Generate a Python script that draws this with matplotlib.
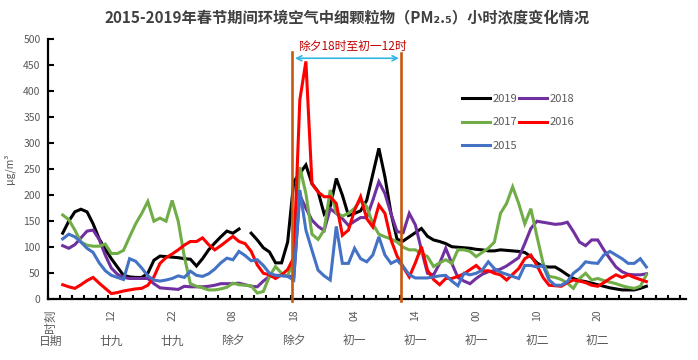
import numpy as np
import matplotlib
matplotlib.use('Agg')
import matplotlib.pyplot as plt
import matplotlib.transforms as mtransforms

plt.rcParams['font.family'] = ['Noto Sans CJK SC', 'DejaVu Sans']

# ---------------- data ----------------
# category index: 0 = header ("时刻/日期"), data hours at categories 2..98
categories = list(range(2, 99))

pm_2019 = [127, 150, 168, 173, 168, 145, 116, 96, 78, 62,
           46, 43, 42, 42, 50, 75, 83, 82, 81, 80,
           78, 77, 64, 78, 95, 108, 120, 131, 127, 135,
           np.nan, 127, 114, 99, 91, 70, 70, 110, 226, 242,
           258, 222, 207, 164, 178, 232, 200, 161, 165, 170,
           190, 240, 290, 235, 165, 115, 112, 120, 128, 136,
           121, 114, 111, 107, 101, 100, 99, 98, 96, 95,
           93, 93, 95, 94, 93, 92, 90, 82, 70, 63,
           62, 62, 55, 47, 40, 36, 34, 31, 28, 25,
           22, 20, 18, 18, 18, 21, 25]
pm_2018 = [103, 98, 105, 118, 131, 133, 115, 85, 60, 48,
           42, 40, 40, 40, 40, 30, 22, 21, 20, 19,
           25, 24, 24, 24, 25, 27, 30, 30, 30, 31,
           28, 25, 24, 35, 44, 46, 46, 45, 43, 200,
           175, 152, 140, 132, 174, 165, 155, 142, 150, 157,
           157, 190, 226, 203, 164, 130, 128, 165, 143, 95,
           50, 47, 69, 98, 69, 42, 35, 30, 40, 48,
           53, 55, 58, 64, 72, 80, 107, 136, 150, 148,
           146, 144, 145, 148, 130, 110, 103, 114, 114, 95,
           78, 62, 53, 48, 47, 47, 49]
pm_2017 = [162, 153, 133, 110, 104, 102, 102, 106, 88, 88,
           94, 120, 145, 165, 188, 150, 156, 150, 190, 150,
           82, 30, 25, 22, 18, 18, 20, 23, 31, 28,
           27, 26, 12, 15, 44, 63, 50, 44, 79, 254,
           203, 125, 115, 133, 210, 166, 160, 165, 175, 190,
           178, 145, 125, 120, 116, 110, 100, 95, 95, 88,
           82, 63, 70, 76, 69, 95, 95, 92, 82, 90,
           98, 110, 165, 184, 216, 184, 145, 174, 121, 70,
           44, 42, 38, 31, 21, 40, 50, 37, 40, 36,
           33, 30, 26, 23, 21, 25, 47]
pm_2016 = [28, 24, 21, 28, 36, 42, 31, 21, 11, 13,
           16, 18, 20, 21, 27, 43, 69, 80, 87, 95,
           104, 111, 111, 118, 105, 95, 103, 112, 121, 111,
           107, 92, 66, 50, 47, 40, 47, 57, 80, 383,
           457, 222, 206, 197, 197, 184, 123, 133, 171, 197,
           155, 139, 181, 165, 114, 83, 62, 43, 70, 101,
           56, 38, 28, 40, 40, 44, 49, 57, 65, 54,
           55, 50, 47, 37, 48, 59, 78, 85, 65, 42,
           27, 26, 25, 32, 37, 35, 32, 27, 25, 32,
           40, 47, 42, 47, 42, 38, 34]
pm_2015 = [116, 125, 120, 110, 98, 90, 70, 55, 46, 42,
           38, 78, 73, 60, 45, 37, 35, 37, 40, 45,
           42, 54, 46, 44, 49, 58, 70, 79, 76, 92,
           84, 74, 76, 65, 50, 46, 45, 44, 37, 210,
           133, 94, 56, 45, 37, 140, 69, 69, 98, 78,
           72, 85, 120, 85, 69, 75, 63, 47, 41, 41,
           41, 43, 45, 46, 35, 26, 50, 47, 50, 56,
           72, 59, 52, 48, 44, 40, 65, 65, 62, 65,
           37, 27, 27, 34, 50, 59, 72, 70, 69, 85,
           92, 85, 78, 69, 69, 78, 62]

series_names = ['2019', '2018', '2017', '2016', '2015']
label_positions = [0, 10, 20, 30, 40, 50, 60, 70, 80, 90]
hour_labels = ['时刻', '12', '22', '08', '18', '04', '14', '00', '10', '20']
date_labels = ['日期', '廿九', '廿九', '除夕', '除夕', '初一', '初一', '初一', '初二', '初二']
period_start, period_end = 39.7, 57.7
period_text = '除夕18时至初一12时'
title = '2015-2019年春节期间环境空气中细颗粒物（PM₂.₅）小时浓度变化情况'

colors = ['#000000', '#7030A0', '#70AD47', '#FF0000', '#4472C4']
gray = '#595959'

# ---------------- figure ----------------
fig = plt.figure(figsize=(6.98, 3.60), dpi=100)
ax = fig.add_axes([47.5 / 698, 60.7 / 360, 638.4 / 698, 260.3 / 360])

data = [pm_2019, pm_2018, pm_2017, pm_2016, pm_2015]
handles = []
for vals, c, name in zip(data, colors, series_names):
    assert len(vals) == len(categories)
    h, = ax.plot(categories, vals, color=c, lw=2.2, label=name,
                 solid_joinstyle='miter')
    handles.append(h)

ax.set_xlim(-0.5, 104.5)
ax.set_ylim(0, 500)
for s in ['top', 'right']:
    ax.spines[s].set_visible(False)
for s in ['left', 'bottom']:
    ax.spines[s].set_linewidth(1.6)
    ax.spines[s].set_color('black')

ax.set_yticks(np.arange(0, 501, 50))
ax.tick_params(axis='y', direction='in', length=4, width=1.5, pad=5,
               labelsize=7.5, labelcolor=gray)

ax.set_xticks(np.arange(-0.5, 104.6, 2), minor=True)
ax.set_xticks(label_positions)
ax.set_xticklabels(hour_labels, rotation=90, va='top', ha='center')
ax.tick_params(axis='x', which='major', length=0, pad=7,
               labelsize=7.5, labelcolor=gray)
ax.tick_params(axis='x', which='minor', direction='in', length=3, width=1.5)
for lab in ax.get_xticklabels():
    if lab.get_text() == '时刻':
        lab.set_fontsize(8.5)

trans = mtransforms.blended_transform_factory(ax.transData, ax.transAxes)
for pos, d in zip(label_positions, date_labels):
    ax.text(pos, -0.160, d, transform=trans, ha='center', va='center',
            fontsize=8.5, color=gray)

ax.set_ylabel('μg/m³', fontsize=7.5, color=gray)
ax.yaxis.set_label_coords(-0.051, 0.5)

# period markers
for xp, top in [(period_start, 475), (period_end, 473)]:
    ax.plot([xp, xp], [-4, top], color='#C55A11', lw=1.9, clip_on=False,
            zorder=5)
ax.annotate('', xy=(period_end - 0.4, 463), xytext=(period_start + 0.5, 463),
            arrowprops=dict(arrowstyle='<->', color='#33B5E5', lw=1.2,
                            shrinkA=0, shrinkB=0, mutation_scale=9))
ax.text(49.6, 486, period_text, color='#C00000', fontsize=8.5,
        ha='center', va='center')

# legend
order = [0, 2, 4, 1, 3]
leg = fig.legend([handles[i] for i in order], [series_names[i] for i in order],
                 ncol=2, loc='upper left', bbox_to_anchor=(462 / 698, 1 - 93.5 / 360),
                 frameon=False, fontsize=8, handlelength=2.5, handletextpad=0.25,
                 columnspacing=0.15, labelspacing=1.25, borderpad=0,
                 borderaxespad=0)
for t in leg.get_texts():
    t.set_color(gray)

fig.text(0.497, 1 - 17 / 360, title, ha='center', va='center', fontsize=11,
         fontweight='bold', color='#404040')

fig.savefig('out.png', dpi=100)
